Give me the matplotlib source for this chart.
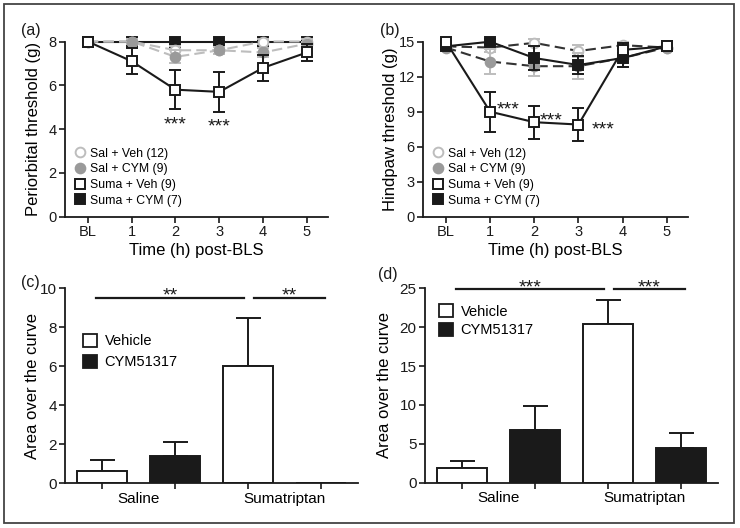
import matplotlib
matplotlib.use("Agg")
import matplotlib.pyplot as plt
from matplotlib.lines import Line2D
from matplotlib.patches import Rectangle, Patch

plt.rcParams['font.family'] = ['Liberation Sans', 'DejaVu Sans']

# ---------------- data ----------------
time_labels = ['BL', '1', '2', '3', '4', '5']
group_names = ['Sal + Veh (12)', 'Sal + CYM (9)', 'Suma + Veh (9)', 'Suma + CYM (7)']

# Panel (a) periorbital threshold (g)
a_sal_veh = [8.0, 8.0, 7.6, 7.6, 8.0, 8.0]
a_sal_veh_err = [0.0, 0.1, 0.2, 0.15, 0.1, 0.1]
a_sal_cym = [8.0, 8.0, 7.3, 7.6, 7.5, 7.9]
a_sal_cym_err = [0.0, 0.1, 0.3, 0.15, 0.2, 0.1]
a_suma_veh = [8.0, 7.1, 5.8, 5.7, 6.8, 7.5]
a_suma_veh_err = [0.0, 0.6, 0.9, 0.9, 0.6, 0.4]
a_suma_cym = [8.0, 8.0, 8.0, 8.0, 8.0, 8.0]
a_suma_cym_err = [0.0, 0.1, 0.0, 0.0, 0.1, 0.0]
a_star_x = [2, 3]
a_star_y = [4.5, 4.45]

# Panel (b) hindpaw threshold (g)
b_sal_veh = [14.6, 14.5, 14.9, 14.2, 14.7, 14.5]
b_sal_veh_err = [0.2, 0.4, 0.3, 0.5, 0.3, 0.2]
b_sal_cym = [14.5, 13.3, 12.9, 12.9, 13.6, 14.5]
b_sal_cym_err = [0.2, 1.1, 0.8, 1.1, 0.8, 0.2]
b_suma_veh = [15.0, 9.0, 8.1, 7.9, 14.3, 14.6]
b_suma_veh_err = [0.1, 1.7, 1.4, 1.4, 0.6, 0.2]
b_suma_cym = [14.6, 15.0, 13.6, 13.0, 13.6, 14.6]
b_suma_cym_err = [0.2, 0.2, 1.0, 0.8, 0.8, 0.2]
b_star_x = [1.4, 2.38, 3.55]
b_star_y = [9.8, 8.85, 8.1]

# Panels (c), (d) area over the curve
bar_groups = ['Saline', 'Sumatriptan']
bar_treat = ['Vehicle', 'CYM51317']
c_vals = [0.65, 1.4, 6.0, 0.0]
c_errs = [0.55, 0.7, 2.5, 0.0]
d_vals = [1.85, 6.8, 20.4, 4.4]
d_errs = [0.9, 3.0, 3.1, 1.95]
c_sig = ['**', '**']
d_sig = ['***', '***']

# ---------------- style ----------------
W, H = 740, 528
fig = plt.figure(figsize=(W / 100, H / 100), dpi=100)

def rect(l, r, t, b):
    return [l / W, 1 - b / H, (r - l) / W, (b - t) / H]

LIGHT = '#bdbdbd'
MID = '#9a9a9a'
BLK = '#1a1a1a'

def stars(ax, x, y, s):
    # place the visual centre of the asterisks at (x, y)
    ax.annotate(s, (x, y), xytext=(0, -8.5), textcoords='offset points',
                ha='center', va='baseline', fontsize=14, color=BLK, annotation_clip=False)

def style_axes(ax):
    for s in ['top', 'right']:
        ax.spines[s].set_visible(False)
    for s in ['left', 'bottom']:
        ax.spines[s].set_linewidth(1.3)
        ax.spines[s].set_color(BLK)
    ax.tick_params(direction='out', length=4, width=1.2, colors=BLK, labelsize=10.5, pad=2)

def line_panel(ax, data, dashcolor, ylim, yticks, ylabel, ylab_x, stars_x, stars_y, order):
    x = list(range(len(time_labels)))
    sal_veh, sal_veh_e, sal_cym, sal_cym_e, suma_veh, suma_veh_e, suma_cym, suma_cym_e = data
    series = {
        'sal_veh': dict(y=sal_veh, e=sal_veh_e, ls=(0, (5, 2.5)), lc=dashcolor, ec=LIGHT, mk='o',
                        mfc='white', mec=LIGHT, ms=7),
        'sal_cym': dict(y=sal_cym, e=sal_cym_e, ls=(0, (5, 2.5)), lc=dashcolor, ec=LIGHT, mk='o',
                        mfc=MID, mec=MID, ms=7),
        'suma_veh': dict(y=suma_veh, e=suma_veh_e, ls='-', lc=BLK, ec=BLK, mk='s',
                         mfc='white', mec=BLK, ms=7.5),
        'suma_cym': dict(y=suma_cym, e=suma_cym_e, ls='-', lc=BLK, ec=BLK, mk='s',
                         mfc=BLK, mec=BLK, ms=7.5),
    }
    z = 3
    for key in order:
        s = series[key]
        ax.errorbar(x, s['y'], yerr=s['e'], fmt='none', ecolor=s['ec'], elinewidth=1.4,
                    capsize=4, capthick=1.4, zorder=z, clip_on=False)
        ax.plot(x, s['y'], linestyle=s['ls'], color=s['lc'], lw=1.5, marker=s['mk'],
                ms=s['ms'], mfc=s['mfc'], mec=s['mec'], mew=1.4, zorder=z + 0.5, clip_on=False)
        z += 1
    for sx, sy in zip(stars_x, stars_y):
        stars(ax, sx, sy, '***')
    ax.set_xlim(-0.52, 5.48)
    ax.set_ylim(*ylim)
    ax.set_xticks(x)
    ax.set_xticklabels(time_labels)
    ax.set_yticks(yticks)
    ax.set_xlabel('Time (h) post-BLS', fontsize=12, labelpad=3)
    ax.set_ylabel(ylabel, fontsize=12)
    ax.yaxis.set_label_coords(ylab_x, 0.5)
    style_axes(ax)
    handles = [
        Line2D([], [], ls='none', marker='o', ms=7, mfc='white', mec=LIGHT, mew=1.4),
        Line2D([], [], ls='none', marker='o', ms=7, mfc=MID, mec=MID, mew=1.4),
        Line2D([], [], ls='none', marker='s', ms=7.5, mfc='white', mec=BLK, mew=1.4),
        Line2D([], [], ls='none', marker='s', ms=7.5, mfc=BLK, mec=BLK, mew=1.4),
    ]
    ax.legend(handles, group_names, loc='lower left', bbox_to_anchor=(0.012, 0.015), frameon=False,
              fontsize=8.8, handlelength=0.8, handletextpad=0.4, labelspacing=0.3,
              borderaxespad=0.3, borderpad=0.3)

ax_a = fig.add_axes(rect(65, 328, 41.5, 216.7))
line_panel(ax_a, [a_sal_veh, a_sal_veh_err, a_sal_cym, a_sal_cym_err,
                  a_suma_veh, a_suma_veh_err, a_suma_cym, a_suma_cym_err],
           LIGHT, (0, 8), [0, 2, 4, 6, 8], 'Periorbital threshold (g)', -0.09,
           a_star_x, a_star_y, ['suma_cym', 'sal_veh', 'sal_cym', 'suma_veh'])

ax_b = fig.add_axes(rect(423, 688, 41.7, 216.7))
line_panel(ax_b, [b_sal_veh, b_sal_veh_err, b_sal_cym, b_sal_cym_err,
                  b_suma_veh, b_suma_veh_err, b_suma_cym, b_suma_cym_err],
           '#333333', (0, 15), [0, 3, 6, 9, 12, 15], 'Hindpaw threshold (g)', -0.094,
           b_star_x, b_star_y, ['sal_veh', 'sal_cym', 'suma_cym', 'suma_veh'])

def bar_panel(ax, vals, errs, ylim, yticks, sig, sig_y, star_y, ylab_x):
    x = [0, 1, 2, 3]
    colors = ['white', BLK, 'white', BLK]
    ax.bar(x, vals, width=0.68, color=colors, edgecolor=BLK, linewidth=1.4, zorder=2)
    for xi, v, e in zip(x, vals, errs):
        if e > 0:
            ax.errorbar([xi], [v], yerr=[[0], [e]], fmt='none', ecolor=BLK, elinewidth=1.4,
                        capsize=9, capthick=1.4, zorder=1)
    ax.set_xlim(-0.5, 3.5)
    ax.set_ylim(*ylim)
    ax.set_yticks(yticks)
    ax.set_xticks(x)
    ax.set_xticklabels([''] * 4)
    ax.set_xticks([0.5, 2.5], minor=True)
    ax.set_xticklabels(bar_groups, minor=True)
    ax.set_ylabel('Area over the curve', fontsize=12)
    ax.yaxis.set_label_coords(ylab_x, 0.5)
    style_axes(ax)
    ax.tick_params(axis='y', labelsize=11)
    ax.tick_params(axis='x', which='minor', length=0, labelsize=11, pad=6)
    spans = [(-0.07, 1.95), (2.08, 3.05)]
    for (x0, x1), s in zip(spans, sig):
        ax.plot([x0, x1], [sig_y, sig_y], color=BLK, lw=1.6, clip_on=False)
        stars(ax, (x0 + x1) / 2, star_y, s)
    handles = [Patch(facecolor='white', edgecolor=BLK, linewidth=1.3),
               Patch(facecolor=BLK, edgecolor=BLK, linewidth=1.3)]
    return handles

ax_c = fig.add_axes(rect(65, 358, 288.3, 483.3))
hc = bar_panel(ax_c, c_vals, c_errs, (0, 10), [0, 2, 4, 6, 8, 10], c_sig, 9.5, 10.0, -0.085)
ax_c.legend(hc, bar_treat, loc='upper left', bbox_to_anchor=(0.026, 0.82), frameon=False,
            fontsize=10.5, handlelength=1.0, handleheight=1.0, handletextpad=0.5,
            labelspacing=0.45, borderpad=0.2)

ax_d = fig.add_axes(rect(425, 718, 288.3, 482.7))
hd = bar_panel(ax_d, d_vals, d_errs, (0, 25), [0, 5, 10, 15, 20, 25], d_sig, 24.9, 26.0, -0.113)
ax_d.legend(hd, bar_treat, loc='upper left', bbox_to_anchor=(0.012, 0.97), frameon=False,
            fontsize=10.5, handlelength=1.0, handleheight=1.0, handletextpad=0.5,
            labelspacing=0.25, borderpad=0.2)

# panel labels
for lab, px, py in [('(a)', 31, 31), ('(b)', 390, 31), ('(c)', 30, 282), ('(d)', 388, 275)]:
    fig.text(px / W, 1 - py / H, lab, fontsize=11.5, ha='center', va='center', color=BLK)

# outer frame
fig.add_artist(Rectangle((4 / W, 1 - 523 / H), 730 / W, 519 / H, transform=fig.transFigure,
                         fill=False, edgecolor='#444444', linewidth=1.3))

fig.savefig('out.png', dpi=100)
